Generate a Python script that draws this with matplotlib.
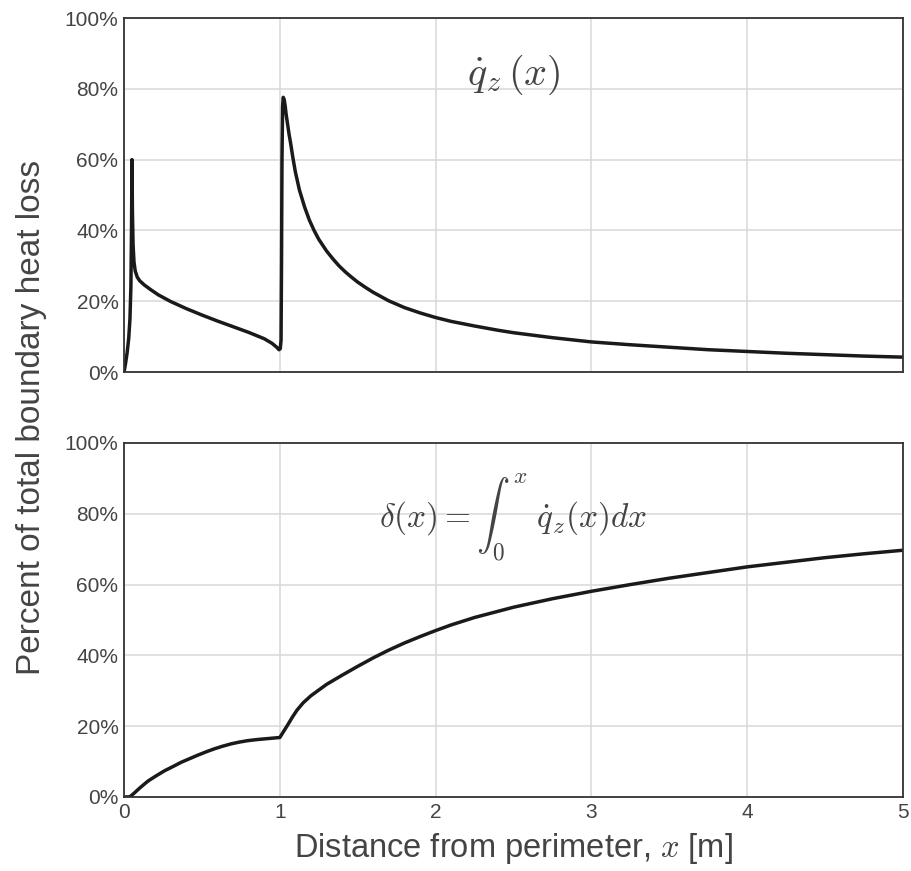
import matplotlib
matplotlib.use("Agg")
import matplotlib.pyplot as plt
from matplotlib.ticker import FuncFormatter

# ---- data ----
qz_x = [0.0, 0.01, 0.02, 0.03, 0.038, 0.044, 0.048, 0.051, 0.054, 0.058, 0.064,
        0.072, 0.085, 0.10, 0.13, 0.17, 0.22, 0.30, 0.40, 0.50, 0.60, 0.70, 0.80,
        0.90, 0.95, 0.98, 0.995, 1.003, 1.008, 1.011, 1.014, 1.018, 1.022, 1.028,
        1.035, 1.04, 1.05, 1.06, 1.07, 1.083, 1.10, 1.126, 1.16, 1.19, 1.22, 1.25,
        1.30, 1.34, 1.38, 1.42, 1.46, 1.50, 1.55, 1.60, 1.70, 1.80, 1.90, 2.00,
        2.10, 2.25, 2.40, 2.50, 2.75, 3.00, 3.25, 3.50, 3.75, 4.00, 4.25, 4.50,
        4.75, 5.00]
qz_y = [0.0, 2.5, 5.5, 9.5, 15.0, 24.0, 40.0, 60.0, 45.0, 36.0, 31.0,
        28.5, 26.8, 25.8, 24.6, 23.3, 21.8, 19.9, 17.9, 16.1, 14.4, 12.8, 11.2,
        9.4, 8.1, 7.0, 6.3, 6.6, 9.0, 30.0, 60.0, 75.0, 77.6, 77.0,
        75.0, 73.0, 70.0, 67.0, 64.5, 60.8, 56.5, 51.4, 46.5, 42.9, 40.0, 37.5,
        34.2, 32.0, 30.0, 28.3, 26.8, 25.4, 23.9, 22.5, 20.1, 18.2, 16.7, 15.4,
        14.3, 13.0, 11.8, 11.1, 9.7, 8.5, 7.7, 7.0, 6.3, 5.8, 5.3, 4.9,
        4.5, 4.2]

delta_x = [0.0, 0.036, 0.05, 0.068, 0.10, 0.154, 0.20, 0.26, 0.31, 0.367, 0.42,
           0.473, 0.53, 0.58, 0.63, 0.687, 0.74, 0.793, 0.85, 0.90, 0.95, 1.00,
           1.02, 1.05, 1.08, 1.11, 1.15, 1.20, 1.30, 1.40, 1.50, 1.60, 1.70,
           1.80, 1.90, 2.00, 2.10, 2.25, 2.50, 2.75, 3.00, 3.25, 3.50, 3.75, 4.00,
           4.25, 4.50, 4.75, 5.00]
delta_y = [0.0, 0.0, 0.5, 1.2, 2.5, 4.5, 5.8, 7.4, 8.5, 9.8, 10.8,
           11.8, 12.8, 13.6, 14.3, 15.0, 15.5, 15.9, 16.2, 16.4, 16.6, 16.8,
           18.2, 20.3, 22.5, 24.5, 26.6, 28.6, 31.8, 34.4, 36.9, 39.3, 41.5,
           43.5, 45.3, 47.0, 48.6, 50.7, 53.6, 56.0, 58.1, 60.0, 61.8, 63.4, 65.0,
           66.3, 67.6, 68.7, 69.7]

x_ticks = [0, 1, 2, 3, 4, 5]
y_ticks = [0, 20, 40, 60, 80, 100]

label_top = r"$\dot{q}_z\,(x)$"
label_bottom = r"$\delta(x) = \int_0^x\ \dot{q}_z(x) dx$"
xlabel = r"Distance from perimeter, $x$ [m]"
ylabel = "Percent of total boundary heat loss"

# ---- styling ----
plt.rcParams['font.family'] = ['Liberation Sans', 'DejaVu Sans']
plt.rcParams['mathtext.fontset'] = 'cm'
text_col = '#444444'
spine_col = '#333333'
grid_col = '#d9d9d9'
line_col = '#1a1a1a'

fig = plt.figure(figsize=(9.12, 8.71), dpi=100)
ax1 = fig.add_axes([0.136, 0.5729, 0.854, 0.4064])
ax2 = fig.add_axes([0.136, 0.085, 0.854, 0.4064])

pct = FuncFormatter(lambda v, p: f"{v:.0f}%")

for ax in (ax1, ax2):
    ax.set_xlim(0, 5)
    ax.set_ylim(0, 100)
    ax.set_xticks(x_ticks)
    ax.set_yticks(y_ticks)
    ax.yaxis.set_major_formatter(pct)
    ax.grid(True, color=grid_col, linewidth=1.1)
    ax.set_axisbelow(True)
    for s in ax.spines.values():
        s.set_color(spine_col)
        s.set_linewidth(1.3)
    ax.tick_params(length=0, labelsize=15, colors=text_col, pad=4)

ax1.tick_params(labelbottom=False)
ax2.set_xticklabels([str(t) for t in x_ticks])

ax1.plot(qz_x, qz_y, color=line_col, linewidth=2.5, solid_joinstyle='round')
ax2.plot(delta_x, delta_y, color=line_col, linewidth=2.5, solid_joinstyle='round')

ax1.text(2.5, 84, label_top, ha='center', va='center', fontsize=29, color=text_col)
ax2.text(2.5, 79, label_bottom, ha='center', va='center', fontsize=24, color=text_col)

ax2.set_xlabel(xlabel, fontsize=23.5, color=text_col, labelpad=7)
fig.text(0.035, 0.521, ylabel, rotation=90, ha='center', va='center',
         fontsize=24, color=text_col)

fig.savefig("out.png", dpi=100)
